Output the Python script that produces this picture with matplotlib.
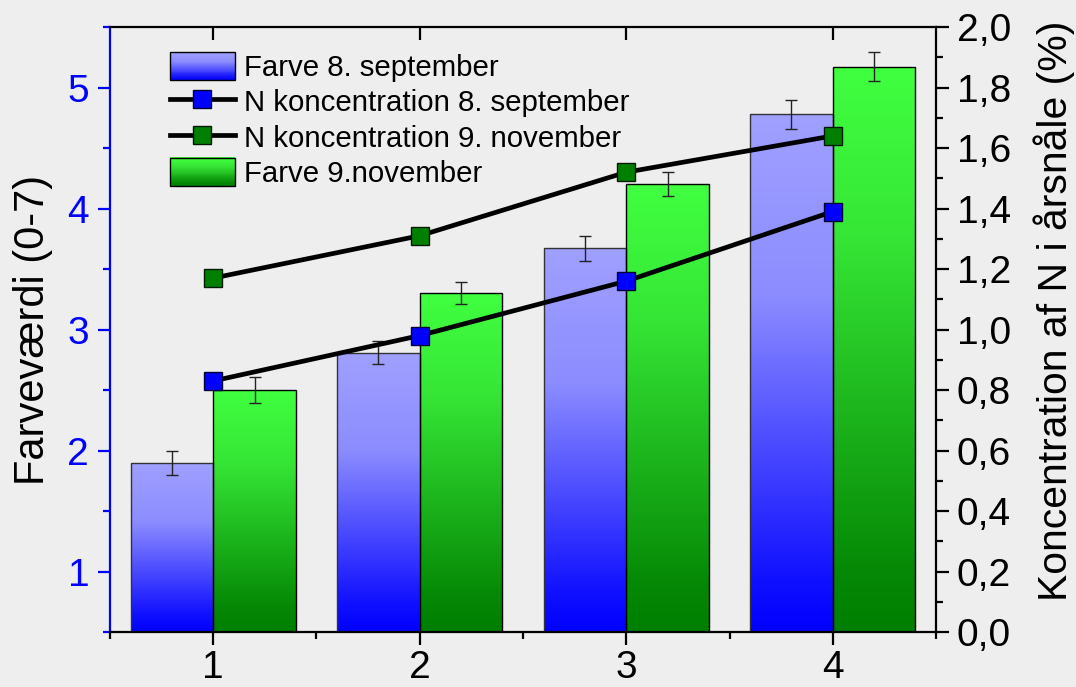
import numpy as np
import matplotlib
matplotlib.use("Agg")
import matplotlib.pyplot as plt
from matplotlib.colors import LinearSegmentedColormap
from matplotlib.patches import Rectangle
from matplotlib.legend_handler import HandlerBase
from matplotlib.ticker import MultipleLocator, FuncFormatter

plt.rcParams['font.family'] = ['Liberation Sans', 'DejaVu Sans']

# data
groups = [1, 2, 3, 4]
farve_sep = [1.90, 2.81, 3.67, 4.78]
farve_sep_err = [0.10, 0.095, 0.10, 0.12]
farve_nov = [2.50, 3.30, 4.20, 5.17]
farve_nov_err = [0.11, 0.09, 0.10, 0.12]
n_sep = [0.83, 0.98, 1.16, 1.39]
n_nov = [1.17, 1.31, 1.52, 1.64]

bg = '#eeeeee'
cmap_blue = LinearSegmentedColormap.from_list('b', [(0, '#0000ff'), (0.1, '#1010ff'), (0.65, '#8c8cff'), (1, '#a0a0ff')])
cmap_green = LinearSegmentedColormap.from_list('g', [(0, '#007f00'), (0.1, '#058805'), (0.7, '#36e636'), (1, '#40ff40')])


class GradientHandler(HandlerBase):
    def __init__(self, cmap):
        super().__init__()
        self.cmap = cmap

    def create_artists(self, legend, orig_handle, xdescent, ydescent,
                       width, height, fontsize, trans):
        arts = []
        n = 30
        for i in range(n):
            r = Rectangle((-xdescent, -ydescent + height * i / n), width, height / n + 0.3,
                          facecolor=self.cmap((i + 0.5) / n), edgecolor='none', transform=trans)
            arts.append(r)
        arts.append(Rectangle((-xdescent, -ydescent), width, height, facecolor='none',
                              edgecolor='black', lw=1, transform=trans))
        return arts


fig = plt.figure(figsize=(10.76, 6.87), dpi=100, facecolor=bg)
ax = fig.add_axes([0.1022, 0.080, 0.7677, 0.8807])
ax.set_facecolor(bg)
ax2 = ax.twinx()

x = np.array(groups, dtype=float)
w = 0.4
bars_sep = ax.bar(x - w / 2, farve_sep, w, bottom=0, color='none', edgecolor='#333333', lw=1, zorder=2)
bars_nov = ax.bar(x + w / 2, farve_nov, w, bottom=0, color='none', edgecolor='black', lw=1, zorder=2)

grad = np.linspace(0, 1, 256).reshape(-1, 1)
for bars, cm, vals in [(bars_sep, cmap_blue, farve_sep), (bars_nov, cmap_green, farve_nov)]:
    for b, v in zip(bars, vals):
        x0 = b.get_x()
        im = ax.imshow(grad, cmap=cm, origin='lower', aspect='auto',
                       extent=[x0, x0 + w, 0.5, v], zorder=1.5)
        im.set_clip_path(b)

ax.errorbar(x - w / 2, farve_sep, yerr=farve_sep_err, fmt='none', ecolor='#222222',
            elinewidth=1, capsize=4.5, capthick=1, zorder=3)
ax.errorbar(x + w / 2, farve_nov, yerr=farve_nov_err, fmt='none', ecolor='#222222',
            elinewidth=1, capsize=4.5, capthick=1, zorder=3)

l1, = ax2.plot(x, n_sep, color='black', lw=3.4, marker='s', ms=12.5,
               mfc='#0000ff', mec='#000033', mew=1)
l2, = ax2.plot(x, n_nov, color='black', lw=3.4, marker='s', ms=12.5,
               mfc='#007f00', mec='#001a00', mew=1)

ax.set_xlim(0.5, 4.5)
ax.set_ylim(0.5, 5.5)
ax2.set_ylim(0, 2.0)

ax.xaxis.set_major_locator(MultipleLocator(1))
ax.xaxis.set_minor_locator(MultipleLocator(0.5))
ax.yaxis.set_major_locator(MultipleLocator(1))
ax.yaxis.set_minor_locator(MultipleLocator(0.5))
ax2.yaxis.set_major_locator(MultipleLocator(0.2))
ax2.yaxis.set_minor_locator(MultipleLocator(0.1))
ax2.yaxis.set_major_formatter(FuncFormatter(lambda v, p: ('%.1f' % v).replace('.', ',')))

for s in ['top', 'bottom']:
    ax.spines[s].set_linewidth(1.6)
    ax.spines[s].set_color('black')
ax.spines['left'].set_color('#0000ff')
ax.spines['left'].set_linewidth(1.6)
ax2.spines['left'].set_visible(False)
ax2.spines['top'].set_visible(False)
ax2.spines['bottom'].set_visible(False)
ax2.spines['right'].set_linewidth(1.6)
ax.spines['right'].set_visible(False)

ax.tick_params(axis='x', which='major', direction='out', length=9, width=1.6,
               labelsize=28, pad=4, top=True)
ax.tick_params(axis='x', which='minor', direction='out', length=5, width=1.6)
ax.tick_params(axis='y', which='major', direction='out', length=9, width=1.6,
               colors='#0000ff', labelsize=28, pad=6)
ax.tick_params(axis='y', which='minor', direction='out', length=5, width=1.6, colors='#0000ff')
ax2.tick_params(axis='y', which='major', direction='out', length=9, width=1.6,
                labelsize=28, pad=6)
ax2.tick_params(axis='y', which='minor', direction='out', length=5, width=1.6)
# top ticks point inward
for t in ax.xaxis.get_major_ticks():
    t.tick2line.set_marker(3)
ax.xaxis.set_tick_params(which='minor', top=False)

ax.set_ylabel('Farveværdi (0-7)', fontsize=30, color='black', labelpad=10)
ax2.set_ylabel('Koncentration af N i årsnåle (%)', fontsize=29.4, color='black', labelpad=16)
ax2.yaxis.label.set_y(0.531)

h1 = Rectangle((0, 0), 1, 1)
h2 = Rectangle((0, 0), 1, 1)
leg = ax2.legend([h1, l1, l2, h2],
                 ['Farve 8. september', 'N koncentration 8. september',
                  'N koncentration 9. november', 'Farve 9.november'],
                 handler_map={h1: GradientHandler(cmap_blue), h2: GradientHandler(cmap_green)},
                 loc='upper left', bbox_to_anchor=(170 / 1076, 1 - 52 / 687),
                 bbox_transform=fig.transFigure, frameon=False, fontsize=21.2,
                 handlelength=2.2, handleheight=1.08, handletextpad=0.33,
                 labelspacing=0.18, borderpad=0, borderaxespad=0)

fig.savefig('out.png', dpi=100, facecolor=bg)
